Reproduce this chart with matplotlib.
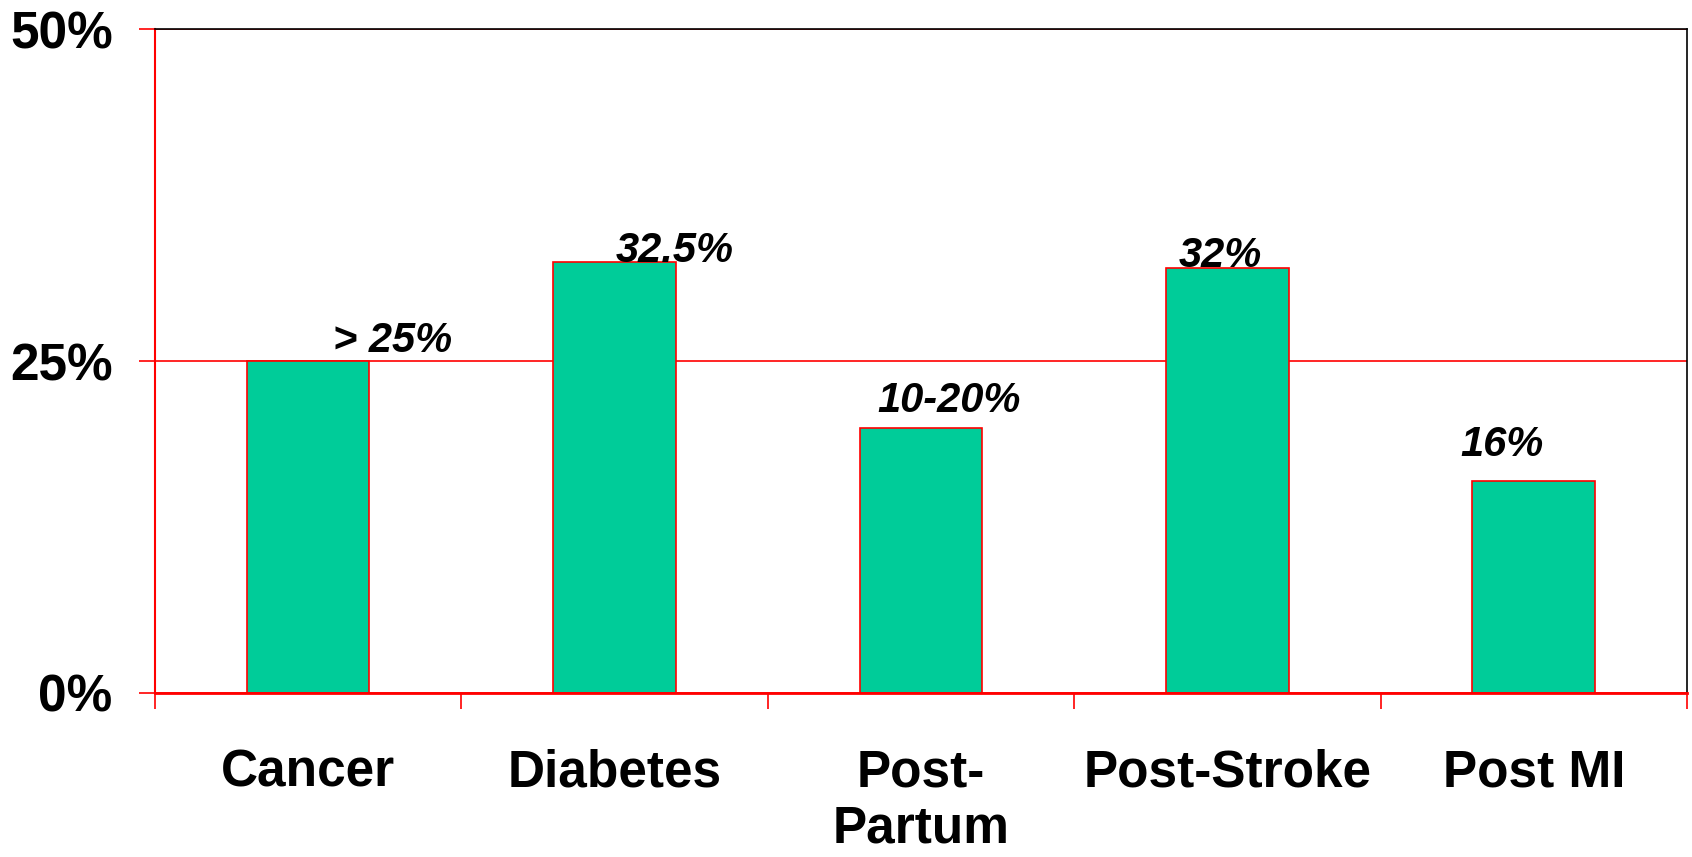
import matplotlib
matplotlib.use("Agg")
import matplotlib.pyplot as plt
from matplotlib.ticker import FixedLocator, NullFormatter

# datos
categorias = ["Cancer", "Diabetes", "Post-\nPartum", "Post-Stroke", "Post MI"]
valores = [25, 32.5, 20, 32, 16]
etiquetas = ["> 25%", "32.5%", "10-20%", "32%", "16%"]
yticks = [0, 25, 50]
ytick_labels = ["0%", "25%", "50%"]

# desplazamiento de cada etiqueta respecto a la cima de la barra (puntos)
desplazamientos = [(61, 6.5), (43, 0), (20, 11.5), (-5, 0.7), (-23, 18)]

plt.rcParams["font.family"] = ["Liberation Sans", "DejaVu Sans"]

fig = plt.figure(figsize=(16.92, 8.57), dpi=100)
ax = fig.add_axes([0.0916, 0.1914, 0.9054, 0.7742])

posiciones = list(range(len(categorias)))
ax.bar(posiciones, valores, width=0.4, color="#00CC99", edgecolor="#FF0000",
       linewidth=1.2, zorder=3)

# etiquetas de datos
for i, (v, txt) in enumerate(zip(valores, etiquetas)):
    dx, dy = desplazamientos[i]
    ax.annotate(txt, xy=(i, v), xytext=(dx, dy), textcoords="offset points",
                ha="center", va="baseline", fontsize=30, fontweight="bold",
                fontstyle="italic", color="black", zorder=4)

ax.set_xlim(-0.5, len(categorias) - 0.5)
ax.set_ylim(0, 50)

# eje y
ax.set_yticks(yticks)
ax.set_yticklabels(ytick_labels, fontsize=37, fontweight="bold")
ax.tick_params(axis="y", length=11.5, width=1.2, color="#FF0000", pad=19)

# eje x: marcas entre categorias, textos en el centro
ax.xaxis.set_major_locator(FixedLocator([p - 0.5 for p in range(len(categorias) + 1)]))
ax.xaxis.set_major_formatter(NullFormatter())
ax.xaxis.set_minor_locator(FixedLocator(posiciones))
ax.set_xticklabels(categorias, minor=True, fontsize=37, fontweight="bold",
                   linespacing=1.18)
ax.tick_params(axis="x", which="major", length=11.5, width=1.2, color="#FF0000")
ax.tick_params(axis="x", which="minor", length=0, pad=40)

ax.yaxis.grid(True, color="#FF0000", linewidth=1.2, zorder=0)
ax.set_axisbelow(True)

ax.spines["left"].set_color("#FF0000")
ax.spines["bottom"].set_color("#FF0000")
ax.spines["left"].set_linewidth(1.5)
ax.spines["bottom"].set_linewidth(2)
ax.spines["top"].set_color("black")
ax.spines["right"].set_color("black")
ax.spines["top"].set_linewidth(1.2)
ax.spines["right"].set_linewidth(1.2)
ax.spines["bottom"].set_zorder(5)

fig.savefig("out.png", dpi=100, facecolor="white")
